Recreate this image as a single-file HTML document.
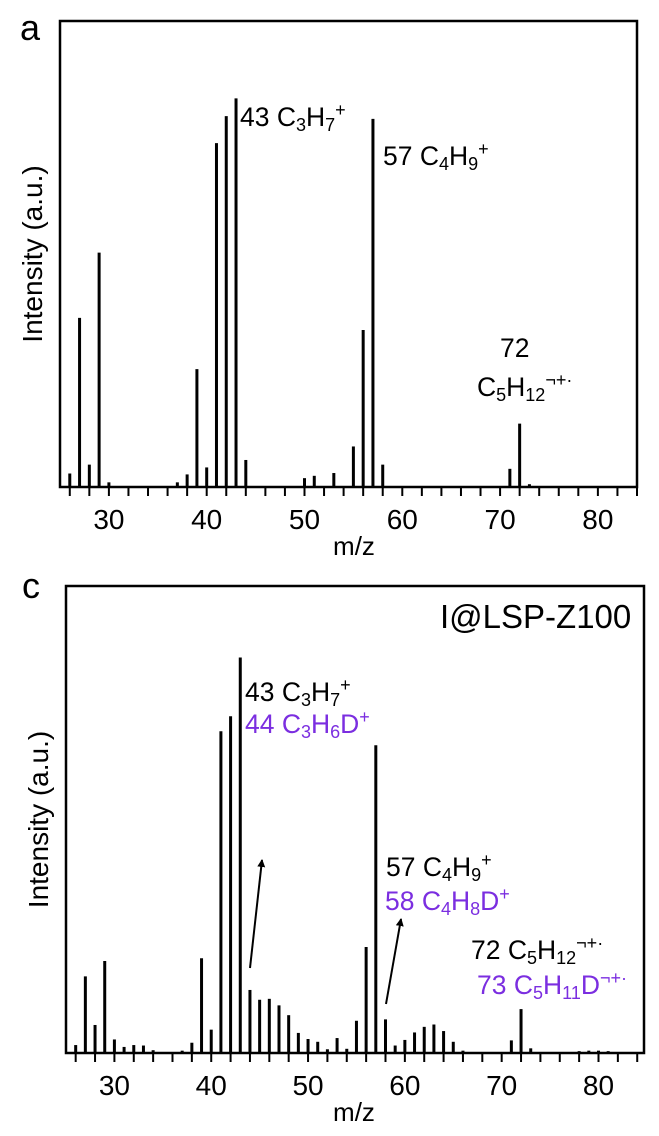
<!DOCTYPE html>
<html><head><meta charset="utf-8"><style>
body{margin:0;background:#fff}
svg{display:block}
text{font-family:"Liberation Sans",sans-serif;fill:#000}
.pu{fill:#7b2ee0}
</style></head><body>
<svg id="chart" width="659" height="1136" viewBox="0 0 659 1136">
<g id="pa"></g>
<g id="pc"></g>
</svg>
<script>
const mzA = [26,27,28,29,30,37,38,39,40,41,42,43,44,50,51,53,55,56,57,58,71,72,73];
const intA = [0.029,0.363,0.048,0.503,0.01,0.01,0.027,0.253,0.042,0.738,0.796,0.834,0.058,0.019,0.024,0.03,0.087,0.337,0.79,0.048,0.039,0.136,0.006];
const mzC = [26,27,28,29,30,31,32,33,34,37,38,39,40,41,42,43,44,45,46,47,48,49,50,51,52,53,54,55,56,57,58,59,60,61,62,63,64,65,66,70,71,72,73,77,78,79,80,81,82];
const intC = [0.017,0.164,0.06,0.197,0.029,0.013,0.017,0.016,0.006,0.005,0.022,0.203,0.05,0.689,0.721,0.847,0.135,0.114,0.116,0.102,0.081,0.043,0.03,0.024,0.008,0.032,0.009,0.069,0.227,0.659,0.072,0.016,0.028,0.044,0.056,0.061,0.047,0.024,0.005,0.002,0.027,0.094,0.01,0.002,0.004,0.005,0.005,0.004,0.002];
const tickLabels = [30,40,50,60,70,80];
const NS='http://www.w3.org/2000/svg';
function mk(parent,tag,attrs,txt){const e=document.createElementNS(NS,tag);for(const k in attrs)e.setAttribute(k,attrs[k]);if(txt!==undefined)e.innerHTML=txt;parent.appendChild(e);return e;}
function panel(g,cfg,mz,ints){
  const xs=v=>cfg.l+(v-cfg.x0)/(cfg.x1-cfg.x0)*(cfg.r-cfg.l);
  const ys=v=>cfg.b-v*(cfg.b-cfg.t);
  const fr=mk(g,'rect',{x:cfg.l,y:cfg.t,width:cfg.r-cfg.l,height:cfg.b-cfg.t,fill:'none',stroke:'#000','stroke-width':2.5});
  
  
  for(let v=26;v<=cfg.x1+0.01;v+=2){
    const t=mk(g,'line',{x1:xs(v),x2:xs(v),y1:cfg.b,y2:cfg.b+9,stroke:'#000','stroke-width':2});
    
    
  }
  tickLabels.forEach(v=>{
    const t=mk(g,'text',{x:xs(v),y:cfg.b+42,'text-anchor':'middle','font-size':28},String(v));
    
    
  });
  mz.forEach((m,i)=>{
    const b=mk(g,'line',{x1:xs(m),x2:xs(m),y1:cfg.b,y2:ys(ints[i]),stroke:'#000','stroke-width':3});
    
    
  });
  const xt=mk(g,'text',{x:354,y:cfg.b+68,'text-anchor':'middle','font-size':26},'m/z');
  
  
  const yc=(cfg.t+cfg.b)/2;
  const yt=mk(g,'text',{x:0,y:0,'text-anchor':'middle','font-size':28,transform:`translate(${cfg.l-18},${yc}) rotate(-90)`},'Intensity (a.u.)');
  
  
  const pl=mk(g,'text',{x:cfg.lx,y:cfg.ly,'font-size':36},cfg.letter);
  
  
}
const pa=document.getElementById('pa'), pc=document.getElementById('pc');
panel(pa,{l:60,r:637,t:21,b:487,x0:25,x1:84,lx:20,ly:40,letter:'a'},mzA,intA);
panel(pc,{l:66,r:644,t:586,b:1053,x0:25,x1:84.7,lx:22,ly:598,letter:'c'},mzC,intC);
function lab(g,name,x,y,html,cls){const t=mk(g,'text',{x:x,y:y,'font-size':26.5,class:cls||''},html);return t;}
const sub=s=>`<tspan baseline-shift="-28%" font-size="18">${s}</tspan>`;
const sup=s=>`<tspan baseline-shift="55%" font-size="18">${s}</tspan>`;
lab(pa,'label-43',240,126,'43 C'+sub('3')+'H'+sub('7')+sup('+'));
lab(pa,'label-57',383,165,'57 C'+sub('4')+'H'+sub('9')+sup('+'));
lab(pa,'label-72-mass',500,357,'72');
lab(pa,'label-72-formula',477,396,'C'+sub('5')+'H'+sub('12')+sup('¬+·'));
lab(pc,'label-43',245,701,'43 C'+sub('3')+'H'+sub('7')+sup('+'));
lab(pc,'label-44',245,733,'44 C'+sub('3')+'H'+sub('6')+'D'+sup('+'),'pu');
lab(pc,'label-57',386,876,'57 C'+sub('4')+'H'+sub('9')+sup('+'));
lab(pc,'label-58',385,910,'58 C'+sub('4')+'H'+sub('8')+'D'+sup('+'),'pu');
lab(pc,'label-72',471,959,'72 C'+sub('5')+'H'+sub('12')+sup('¬+·'));
lab(pc,'label-73',477,994,'73 C'+sub('5')+'H'+sub('11')+'D'+sup('¬+·'),'pu');
const sl=mk(pc,'text',{x:440,y:628,'font-size':33},'I@LSP-Z100');


const defs=mk(document.getElementById('chart'),'defs',{});
const mkr=mk(defs,'marker',{id:'ah',markerWidth:8,markerHeight:12,refX:7,refY:4,orient:'auto',markerUnits:'userSpaceOnUse'});
mk(mkr,'path',{d:'M0,0 L8,4 L0,8 z',fill:'#000'});
[[250,968,262,860],[386,1004,401,919]].forEach((a,i)=>{
  const l=mk(pc,'line',{x1:a[0],y1:a[1],x2:a[2],y2:a[3],stroke:'#000','stroke-width':2,'marker-end':'url(#ah)'});
  
  
});
</script>
</body></html>
